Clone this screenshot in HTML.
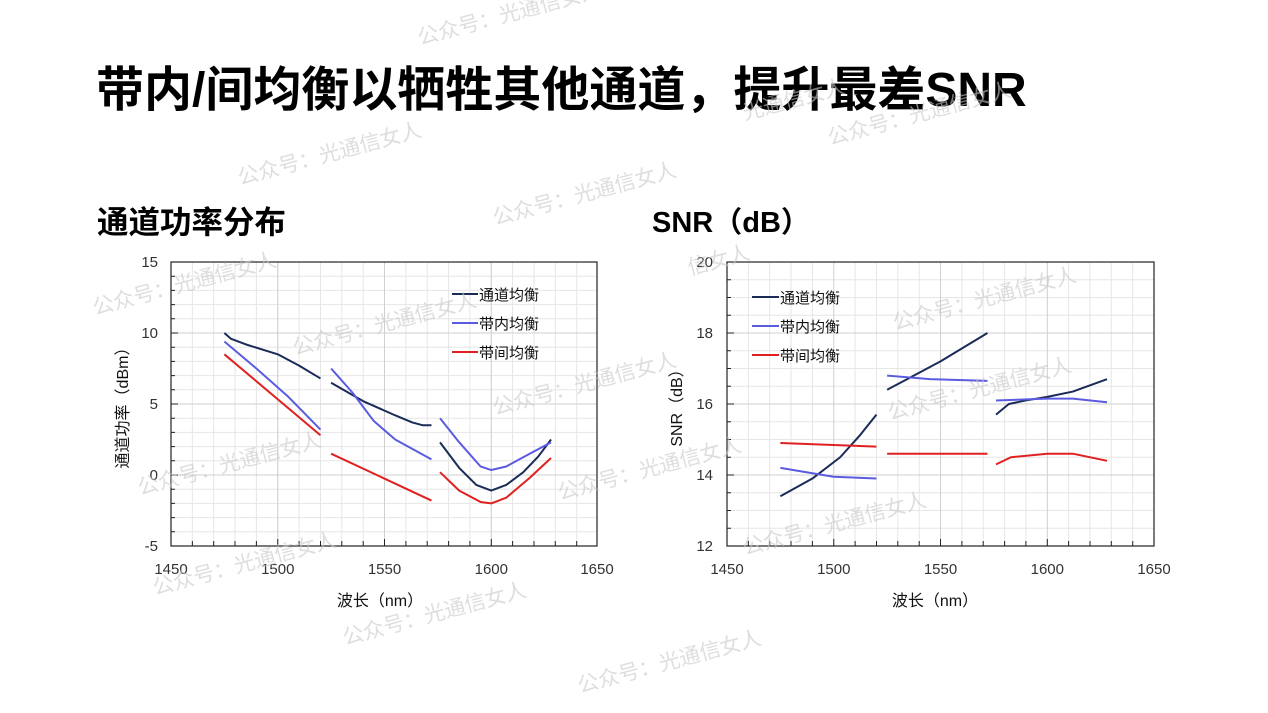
<!DOCTYPE html>
<html><head><meta charset="utf-8"><style>
html,body{margin:0;padding:0;background:#fff;width:1268px;height:713px;overflow:hidden}
svg{display:block;font-family:"Liberation Sans","Noto Sans CJK SC",sans-serif}
</style></head><body>
<svg width="1268" height="713" viewBox="0 0 1268 713" xmlns="http://www.w3.org/2000/svg">
<text x="96" y="106" font-size="48" font-weight="bold" fill="#000">带内/间均衡以牺牲其他通道，提升最差SNR</text>
<text x="97" y="233" font-size="31.5" font-weight="bold" fill="#000">通道功率分布</text>
<text x="652" y="232" font-size="29" font-weight="bold" fill="#000">SNR（dB）</text>

<!-- LEFT CHART grid -->
<g stroke="#e6e6e6" stroke-width="1">
<path d="M192.35 262V546M213.7 262V546M235 262V546M256.4 262V546M277.75 262V546M299.1 262V546M320.5 262V546M341.8 262V546M363.2 262V546M384.5 262V546M405.9 262V546M427.2 262V546M448.6 262V546M469.9 262V546M491.3 262V546M512.6 262V546M534 262V546M555.3 262V546M576.7 262V546"/>
<path d="M171 276.2H597M171 290.4H597M171 304.6H597M171 318.8H597M171 347.2H597M171 361.4H597M171 375.6H597M171 389.8H597M171 418.2H597M171 432.4H597M171 446.6H597M171 460.8H597M171 489.2H597M171 503.4H597M171 517.6H597M171 531.8H597"/>
</g>
<g stroke="#cfcfcf"><path d="M277.75 262V546M384.5 262V546M491.3 262V546M171 333H597M171 404H597M171 475H597"/></g>
<rect x="171" y="262" width="426" height="284" fill="none" stroke="#222" stroke-width="1.2"/>
<g stroke="#222"><path d="M192.35 546v-5M213.7 546v-5M235 546v-5M256.4 546v-5M299.1 546v-5M320.5 546v-5M341.8 546v-5M363.2 546v-5M405.9 546v-5M427.2 546v-5M448.6 546v-5M469.9 546v-5M512.6 546v-5M534 546v-5M555.3 546v-5M576.7 546v-5M277.75 546v-7M384.5 546v-7M491.3 546v-7"/>
<path d="M171 276.2h4M171 290.4h4M171 304.6h4M171 318.8h4M171 347.2h4M171 361.4h4M171 375.6h4M171 389.8h4M171 418.2h4M171 432.4h4M171 446.6h4M171 460.8h4M171 489.2h4M171 503.4h4M171 517.6h4M171 531.8h4M171 333h7M171 404h7M171 475h7"/></g>
<g font-size="15" fill="#333" text-anchor="end">
<text x="158" y="267">15</text><text x="158" y="338">10</text><text x="158" y="409">5</text><text x="158" y="480">0</text><text x="158" y="551">-5</text></g>
<g font-size="15" fill="#333" text-anchor="middle">
<text x="171" y="574">1450</text><text x="277.75" y="574">1500</text><text x="384.5" y="574">1550</text><text x="491.3" y="574">1600</text><text x="597" y="574">1650</text></g>
<text x="380" y="606" font-size="16" fill="#111" text-anchor="middle">波长（nm）</text>
<text transform="translate(128,404) rotate(-90)" font-size="16" fill="#111" text-anchor="middle">通道功率（dBm）</text>

<g transform="matrix(2.135,0,0,-14.2,-2924.75,475)" fill="none" stroke-width="2" stroke-linejoin="round">
<g stroke="#1a2b57">
<polyline vector-effect="non-scaling-stroke" points="1475,10 1478,9.6 1485,9.2 1500,8.5 1510,7.7 1520,6.8"/>
<polyline vector-effect="non-scaling-stroke" points="1525,6.5 1540,5.2 1555,4.2 1563,3.7 1568,3.5 1572,3.5"/>
<polyline vector-effect="non-scaling-stroke" points="1576,2.3 1585,0.5 1593,-0.7 1600,-1.1 1607,-0.7 1615,0.2 1622,1.3 1628,2.5"/>
</g>
<g stroke="#5b5be0">
<polyline vector-effect="non-scaling-stroke" points="1475,9.4 1490,7.5 1505,5.5 1520,3.2"/>
<polyline vector-effect="non-scaling-stroke" points="1525,7.5 1535,5.8 1545,3.8 1555,2.5 1572,1.1"/>
<polyline vector-effect="non-scaling-stroke" points="1576,4 1585,2.3 1595,0.6 1600,0.35 1607,0.6 1618,1.5 1628,2.3"/>
</g>
<g stroke="#e02020">
<polyline vector-effect="non-scaling-stroke" points="1475,8.5 1520,2.8"/>
<polyline vector-effect="non-scaling-stroke" points="1525,1.5 1572,-1.8"/>
<polyline vector-effect="non-scaling-stroke" points="1576,0.2 1585,-1.1 1595,-1.9 1600,-2 1607,-1.6 1618,-0.2 1628,1.2"/>
</g>
</g>
<g font-size="15" fill="#111">
<line x1="452" y1="294" x2="478" y2="294" stroke="#1a2b57" stroke-width="2"/><text x="479" y="300">通道均衡</text>
<line x1="452" y1="323" x2="478" y2="323" stroke="#5b5be0" stroke-width="2"/><text x="479" y="329">带内均衡</text>
<line x1="452" y1="352" x2="478" y2="352" stroke="#e02020" stroke-width="2"/><text x="479" y="358">带间均衡</text>
</g>

<!-- RIGHT CHART -->
<g stroke="#e6e6e6" stroke-width="1">
<path d="M748.35 262V546M769.7 262V546M791 262V546M812.4 262V546M855.1 262V546M876.5 262V546M897.8 262V546M919.2 262V546M961.9 262V546M983.2 262V546M1004.6 262V546M1025.9 262V546M1068.6 262V546M1090 262V546M1111.3 262V546M1132.7 262V546"/>
<path d="M727 279.75H1154M727 297.5H1154M727 315.25H1154M727 350.75H1154M727 368.5H1154M727 386.25H1154M727 421.75H1154M727 439.5H1154M727 457.25H1154M727 492.75H1154M727 510.5H1154M727 528.25H1154"/>
</g>
<g stroke="#cfcfcf"><path d="M833.75 262V546M940.5 262V546M1047.3 262V546M727 333H1154M727 404H1154M727 475H1154"/></g>
<rect x="727" y="262" width="427" height="284" fill="none" stroke="#222" stroke-width="1.2"/>
<g stroke="#222"><path d="M748.35 546v-5M769.7 546v-5M791 546v-5M812.4 546v-5M855.1 546v-5M876.5 546v-5M897.8 546v-5M919.2 546v-5M961.9 546v-5M983.2 546v-5M1004.6 546v-5M1025.9 546v-5M1068.6 546v-5M1090 546v-5M1111.3 546v-5M1132.7 546v-5M833.75 546v-7M940.5 546v-7M1047.3 546v-7"/>
<path d="M727 279.75h4M727 297.5h4M727 315.25h4M727 350.75h4M727 368.5h4M727 386.25h4M727 421.75h4M727 439.5h4M727 457.25h4M727 492.75h4M727 510.5h4M727 528.25h4M727 333h7M727 404h7M727 475h7"/></g>
<g font-size="15" fill="#333" text-anchor="end">
<text x="713" y="267">20</text><text x="713" y="338">18</text><text x="713" y="409">16</text><text x="713" y="480">14</text><text x="713" y="551">12</text></g>
<g font-size="15" fill="#333" text-anchor="middle">
<text x="727" y="574">1450</text><text x="833.75" y="574">1500</text><text x="940.5" y="574">1550</text><text x="1047.3" y="574">1600</text><text x="1154" y="574">1650</text></g>
<text x="935" y="606" font-size="16" fill="#111" text-anchor="middle">波长（nm）</text>
<text transform="translate(682,404) rotate(-90)" font-size="16" fill="#111" text-anchor="middle">SNR（dB）</text>

<g transform="matrix(2.135,0,0,-35.5,-2368.75,972)" fill="none" stroke-width="2" stroke-linejoin="round">
<g stroke="#1a2b57">
<polyline vector-effect="non-scaling-stroke" points="1475,13.4 1490,13.9 1503,14.5 1512,15.1 1520,15.7"/>
<polyline vector-effect="non-scaling-stroke" points="1525,16.4 1550,17.2 1572,18"/>
<polyline vector-effect="non-scaling-stroke" points="1576,15.7 1582,16 1590,16.1 1600,16.2 1612,16.35 1628,16.7"/>
</g>
<g stroke="#5b5be0">
<polyline vector-effect="non-scaling-stroke" points="1475,14.2 1490,14.05 1500,13.95 1520,13.9"/>
<polyline vector-effect="non-scaling-stroke" points="1525,16.8 1545,16.7 1572,16.65"/>
<polyline vector-effect="non-scaling-stroke" points="1576,16.1 1600,16.15 1612,16.15 1628,16.05"/>
</g>
<g stroke="#e02020">
<polyline vector-effect="non-scaling-stroke" points="1475,14.9 1520,14.8"/>
<polyline vector-effect="non-scaling-stroke" points="1525,14.6 1572,14.6"/>
<polyline vector-effect="non-scaling-stroke" points="1576,14.3 1583,14.5 1600,14.6 1612,14.6 1628,14.4"/>
</g>
</g>
<g font-size="15" fill="#111">
<line x1="752" y1="297" x2="779" y2="297" stroke="#1a2b57" stroke-width="2"/><text x="780" y="303">通道均衡</text>
<line x1="752" y1="326" x2="779" y2="326" stroke="#5b5be0" stroke-width="2"/><text x="780" y="332">带内均衡</text>
<line x1="752" y1="355" x2="779" y2="355" stroke="#e02020" stroke-width="2"/><text x="780" y="361">带间均衡</text>
</g>

<!-- watermarks -->
<g font-size="21" fill="#c8c8c8" fill-opacity="0.6">
<text transform="translate(420,45) rotate(-15)">公众号：光通信女人</text>
<text transform="translate(745,120) rotate(-15)">光通信女人</text>
<text transform="translate(830,145) rotate(-15)">公众号：光通信女人</text>
<text transform="translate(240,185) rotate(-15)">公众号：光通信女人</text>
<text transform="translate(495,225) rotate(-15)">公众号：光通信女人</text>
<text transform="translate(690,275) rotate(-15)">信女人</text>
<text transform="translate(95,315) rotate(-15)">公众号：光通信女人</text>
<text transform="translate(895,330) rotate(-15)">公众号：光通信女人</text>
<text transform="translate(295,355) rotate(-15)">公众号：光通信女人</text>
<text transform="translate(495,415) rotate(-15)">公众号：光通信女人</text>
<text transform="translate(890,420) rotate(-15)">公众号：光通信女人</text>
<text transform="translate(140,495) rotate(-15)">公众号：光通信女人</text>
<text transform="translate(560,500) rotate(-15)">公众号：光通信女人</text>
<text transform="translate(745,555) rotate(-15)">公众号：光通信女人</text>
<text transform="translate(155,595) rotate(-15)">公众号：光通信女人</text>
<text transform="translate(345,645) rotate(-15)">公众号：光通信女人</text>
<text transform="translate(580,693) rotate(-15)">公众号：光通信女人</text>
</g>
</svg>
</body></html>
